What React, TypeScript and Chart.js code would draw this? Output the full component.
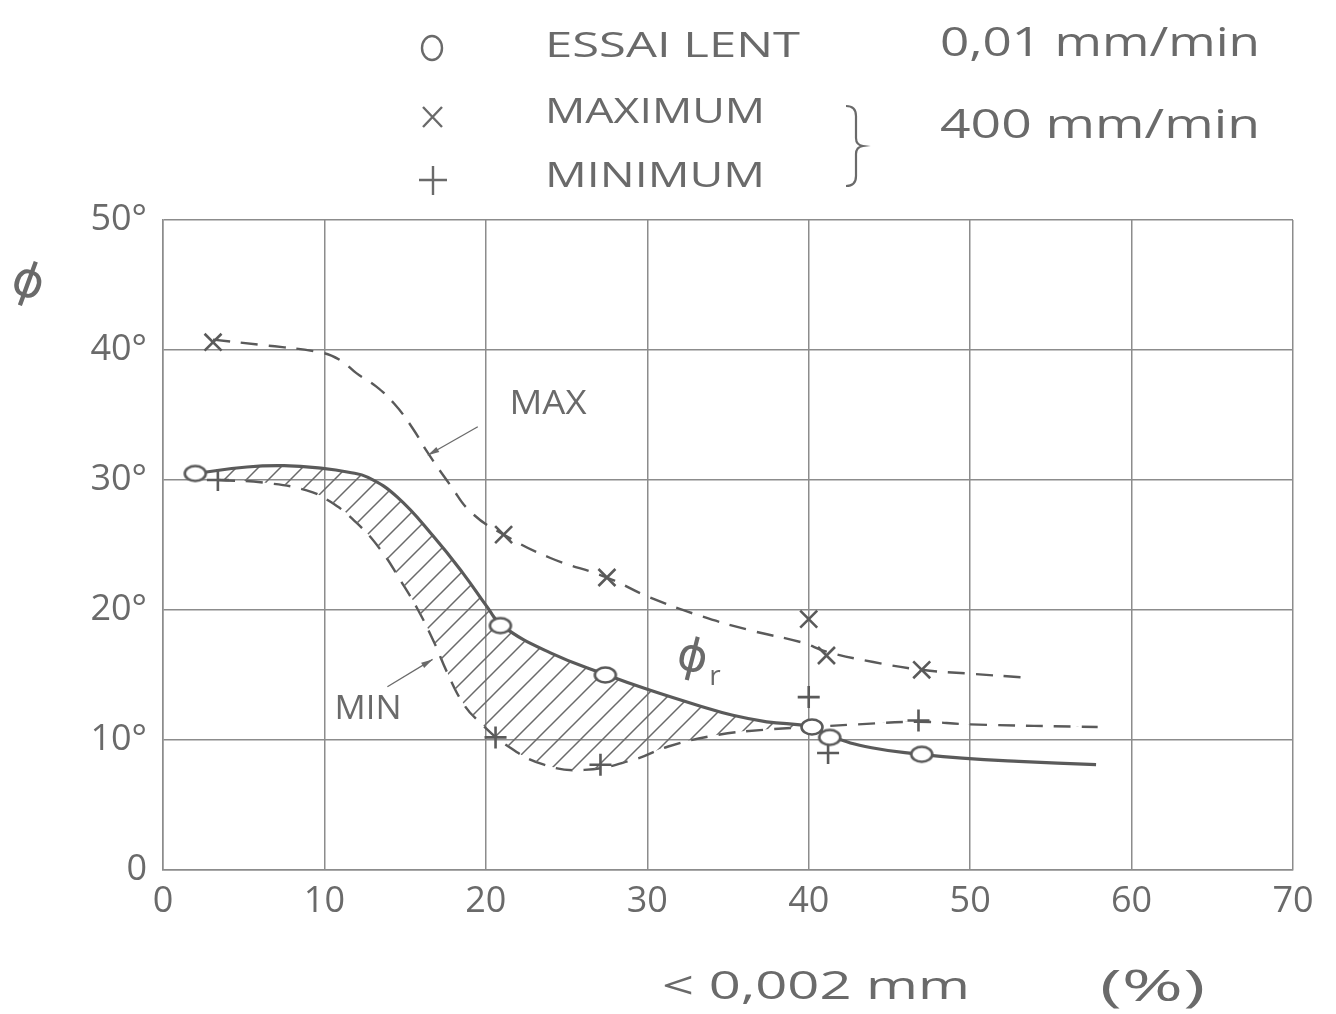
import React, { useEffect, useRef } from 'react';
import { Chart, registerables } from 'chart.js';

Chart.register(...registerables);

// ---- data ----
const X_RANGE = [0, 70];
const Y_RANGE = [0, 50];
const X_STEP = 10;
const Y_STEP = 10;

const lentCurve: number[][] = [
  [2.0, 30.5], [5.2, 31.0], [7.5, 31.1], [9.9, 30.9], [11.5, 30.6], [12.7, 30.2], [14.5, 28.7],
  [16.8, 25.6], [18.6, 22.8], [20.1, 20.2], [21.0, 18.8], [24.0, 16.7], [27.5, 15.0],
  [30.0, 13.9], [33.3, 12.6], [35.3, 11.9], [37.4, 11.4], [40.2, 11.0], [41.3, 10.3],
  [43.9, 9.4], [47.0, 8.9], [49.5, 8.6], [53.0, 8.35], [57.8, 8.1],
];
const maxCurve: number[][] = [
  [3.1, 40.8], [6.0, 40.4], [9.8, 39.8], [11.0, 39.2], [12.0, 38.2], [13.2, 37.2], [14.3, 35.9],
  [15.4, 34.1], [16.4, 32.1], [17.8, 29.6], [19.1, 27.5], [21.1, 25.8], [24.0, 24.0], [27.5, 22.5],
  [30.1, 21.0], [33.4, 19.5], [36.5, 18.4], [39.6, 17.5], [41.1, 16.8], [44.0, 16.0],
  [47.0, 15.4], [50.0, 15.1], [53.5, 14.8],
];
const minCurve: number[][] = [
  [3.4, 30.0], [6.2, 29.8], [8.9, 29.2], [10.4, 28.3], [12.0, 26.7], [13.5, 24.6],
  [14.7, 22.3], [15.8, 20.0], [16.8, 17.5], [17.6, 15.2], [18.6, 12.8], [19.5, 11.5],
  [21.4, 9.5], [23.6, 8.1], [26.1, 7.7], [29.2, 8.5], [31.3, 9.5], [34.4, 10.4],
  [37.4, 10.8], [40.2, 11.0], [43.0, 11.2], [46.8, 11.4], [50.0, 11.2], [57.9, 11.0],
];

// measured points
const lentPoints: number[][] = [
  [2.0, 30.5], [20.9, 18.8], [27.4, 15.0], [40.2, 11.0], [41.3, 10.2], [47.0, 8.9],
];
const maxPoints: number[][] = [
  [3.1, 40.6], [21.1, 25.8], [27.5, 22.5], [40.0, 19.3], [41.1, 16.5], [47.0, 15.4],
];
const minPoints: number[][] = [
  [3.4, 30.0], [20.6, 10.2], [27.1, 8.1], [40.0, 13.3], [41.2, 9.0], [46.8, 11.5],
];

const legendLabels = ['ESSAI LENT', 'MAXIMUM', 'MINIMUM'];
const speedLabels = ['0,01 mm/min', '400 mm/min'];
const xTitle = ['< 0,002 mm', '(%)'];
const yTitle = 'ϕ';

// ---- styles ----
const INK = '#5a5a5a';
const TEXT = '#6a6a6a';
const GRID = '#8c8c8c';
const FONT = '"Open Sans", "DejaVu Sans", sans-serif';

const toXY = (arr: number[][]) => arr.map(([x, y]) => ({ x, y }));

function fitText(ctx: CanvasRenderingContext2D, text: string, x: number, y: number, w: number, size: number, align: 'left' | 'center' = 'left') {
  ctx.save();
  ctx.font = `400 ${size}px ${FONT}`;
  ctx.textBaseline = 'middle';
  ctx.textAlign = 'left';
  const m = ctx.measureText(text).width || 1;
  const sx = w / m;
  const left = align === 'center' ? x - w / 2 : x;
  ctx.translate(left, y);
  ctx.scale(sx, 1);
  ctx.fillText(text, 0, 0);
  ctx.restore();
}

function arrow(ctx: CanvasRenderingContext2D, x1: number, y1: number, x2: number, y2: number) {
  ctx.save();
  ctx.lineWidth = 1.3;
  ctx.beginPath();
  ctx.moveTo(x1, y1);
  ctx.lineTo(x2, y2);
  ctx.stroke();
  const a = Math.atan2(y2 - y1, x2 - x1);
  const L = 12;
  ctx.beginPath();
  ctx.moveTo(x2, y2);
  ctx.lineTo(x2 - L * Math.cos(a - 0.25), y2 - L * Math.sin(a - 0.25));
  ctx.lineTo(x2 - L * Math.cos(a + 0.25), y2 - L * Math.sin(a + 0.25));
  ctx.closePath();
  ctx.fill();
  ctx.restore();
}

const overlayPlugin = {
  id: 'overlay',
  afterDraw(chart: any) {
    const ctx: CanvasRenderingContext2D = chart.ctx;
    const xs = chart.scales.x;
    const ys = chart.scales.y;
    const px = (v: number) => xs.getPixelForValue(v);
    const py = (v: number) => ys.getPixelForValue(v);
    ctx.save();
    ctx.fillStyle = TEXT;
    ctx.strokeStyle = TEXT;

    // legend markers
    ctx.lineWidth = 2.4;
    ctx.beginPath();
    ctx.ellipse(432, 48, 10, 12, 0, 0, Math.PI * 2);
    ctx.stroke();
    ctx.beginPath();
    ctx.moveTo(423, 107); ctx.lineTo(442, 127);
    ctx.moveTo(442, 107); ctx.lineTo(423, 127);
    ctx.stroke();
    ctx.beginPath();
    ctx.moveTo(419, 180); ctx.lineTo(447, 180);
    ctx.moveTo(433, 166); ctx.lineTo(433, 195);
    ctx.stroke();

    // legend texts
    fitText(ctx, legendLabels[0], 545, 47, 255, 34);
    fitText(ctx, legendLabels[1], 545, 113, 220, 34);
    fitText(ctx, legendLabels[2], 545, 177, 220, 34);
    fitText(ctx, speedLabels[0], 940, 45, 320, 40);
    fitText(ctx, speedLabels[1], 940, 127, 320, 40);

    // brace
    ctx.lineWidth = 2.2;
    ctx.beginPath();
    ctx.moveTo(846, 106);
    ctx.quadraticCurveTo(856, 106, 856, 116);
    ctx.lineTo(856, 138);
    ctx.quadraticCurveTo(856, 145, 863, 146);
    ctx.quadraticCurveTo(856, 147, 856, 154);
    ctx.lineTo(856, 176);
    ctx.quadraticCurveTo(856, 186, 846, 186);
    ctx.stroke();

    // y title
    ctx.save();
    ctx.translate(28, 283);
    ctx.rotate(0.35);
    ctx.font = `400 48px ${FONT}`;
    ctx.textAlign = 'center';
    ctx.textBaseline = 'middle';
    ctx.fillText(yTitle, 0, 0);
    ctx.restore();

    // x title
    fitText(ctx, xTitle[0], 662, 988, 308, 38);
    fitText(ctx, xTitle[1], 1100, 988, 105, 44);

    // curve labels
    fitText(ctx, 'MAX', px(23.85), py(35.8), 77, 32, 'center');
    arrow(ctx, px(19.5), py(34.1), px(16.4), py(31.9));
    fitText(ctx, 'MIN', px(12.7), py(12.3), 67, 32, 'center');
    arrow(ctx, px(13.9), py(14.1), px(16.7), py(16.2));

    ctx.save();
    ctx.translate(px(32.8), py(16.3));
    ctx.rotate(0.25);
    ctx.font = `400 46px ${FONT}`;
    ctx.textAlign = 'center';
    ctx.textBaseline = 'middle';
    ctx.fillText('ϕ', 0, 0);
    ctx.restore();
    ctx.font = `400 28px ${FONT}`;
    ctx.textAlign = 'center';
    ctx.textBaseline = 'middle';
    ctx.fillText('r', px(34.2), py(14.85));

    ctx.restore();
  },
};

function makeHatch(): CanvasPattern | string {
  const c = document.createElement('canvas');
  const s = 22;
  c.width = s;
  c.height = s;
  const g = c.getContext('2d');
  if (!g) return 'rgba(0,0,0,0.1)';
  g.strokeStyle = '#6a6a6a';
  g.lineWidth = 1.5;
  g.beginPath();
  g.moveTo(0, s); g.lineTo(s, 0);
  g.moveTo(-2, 2); g.lineTo(2, -2);
  g.moveTo(s - 2, s + 2); g.lineTo(s + 2, s - 2);
  g.stroke();
  const p = g.createPattern(c, 'repeat');
  return p || 'rgba(0,0,0,0.1)';
}

function makeEllipseMarker(): HTMLCanvasElement {
  const c = document.createElement('canvas');
  c.width = 26;
  c.height = 20;
  const g = c.getContext('2d');
  if (g) {
    g.fillStyle = '#ffffff';
    g.strokeStyle = INK;
    g.lineWidth = 2.6;
    g.beginPath();
    g.ellipse(13, 10, 10.5, 7.5, 0, 0, Math.PI * 2);
    g.fill();
    g.stroke();
  }
  return c;
}

export default function App() {
  const ref = useRef<HTMLCanvasElement | null>(null);

  useEffect(() => {
    if (!ref.current) return;
    const hatch = makeHatch();
    const ellipse = makeEllipseMarker();
    const curveBase = {
      borderColor: INK,
      pointRadius: 0,
      tension: 0.45,
      order: 2,
    };
    const pointBase = {
      showLine: false,
      borderColor: INK,
      pointBorderColor: INK,
      pointBackgroundColor: '#ffffff',
      pointBorderWidth: 2.6,
      order: 0,
      fill: false,
    };
    const tickFont = { family: FONT, size: 36, weight: 400 as any };
    const chart = new Chart(ref.current, {
      type: 'line',
      data: {
        datasets: [
          {
            ...curveBase,
            label: 'ESSAI LENT curve',
            data: toXY(lentCurve),
            borderWidth: 3.2,
            fill: { target: 2, above: hatch as any, below: 'rgba(0,0,0,0)' },
          },
          {
            ...curveBase,
            label: 'MAX curve',
            data: toXY(maxCurve),
            borderWidth: 2.4,
            borderDash: [17, 11],
            fill: false,
          },
          {
            ...curveBase,
            label: 'MIN curve',
            data: toXY(minCurve),
            borderWidth: 2.4,
            borderDash: [17, 11],
            fill: false,
          },
          {
            ...pointBase,
            label: legendLabels[0],
            data: toXY(lentPoints),
            pointStyle: ellipse,
            pointRadius: 10,
          },
          {
            ...pointBase,
            label: legendLabels[1],
            data: toXY(maxPoints),
            pointStyle: 'crossRot',
            pointRadius: 12,
          },
          {
            ...pointBase,
            label: legendLabels[2],
            data: toXY(minPoints),
            pointStyle: 'cross',
            pointRadius: 11,
          },
        ] as any,
      },
      options: {
        responsive: false,
        animation: false,
        events: [],
        layout: { padding: { left: 0, right: 43, top: 220, bottom: 0 } },
        plugins: {
          legend: { display: false },
          tooltip: { enabled: false },
          title: { display: false },
        },
        scales: {
          x: {
            type: 'linear',
            min: X_RANGE[0],
            max: X_RANGE[1],
            ticks: {
              stepSize: X_STEP,
              color: TEXT,
              padding: 10,
              font: tickFont,
            },
            grid: { color: GRID, lineWidth: 1.5, drawTicks: false },
            border: { color: GRID, width: 1.5 },
            afterFit: (s: any) => { s.height = 144; },
          },
          y: {
            type: 'linear',
            min: Y_RANGE[0],
            max: Y_RANGE[1],
            ticks: {
              stepSize: Y_STEP,
              color: TEXT,
              padding: 16,
              font: tickFont,
              callback: (v: any) => (Number(v) === 0 ? '0' : `${v}°`),
            },
            grid: { color: GRID, lineWidth: 1.5, drawTicks: false },
            border: { color: GRID, width: 1.5 },
            afterFit: (s: any) => { s.width = 163; },
          },
        },
      } as any,
      plugins: [overlayPlugin],
    });
    return () => chart.destroy();
  }, []);

  return (
    <div style={{ position: 'absolute', left: 0, top: 0, width: 1336, height: 1014, background: '#ffffff' }}>
      <canvas ref={ref} width={1336} height={1014} style={{ width: 1336, height: 1014, display: 'block' }} />
    </div>
  );
}
